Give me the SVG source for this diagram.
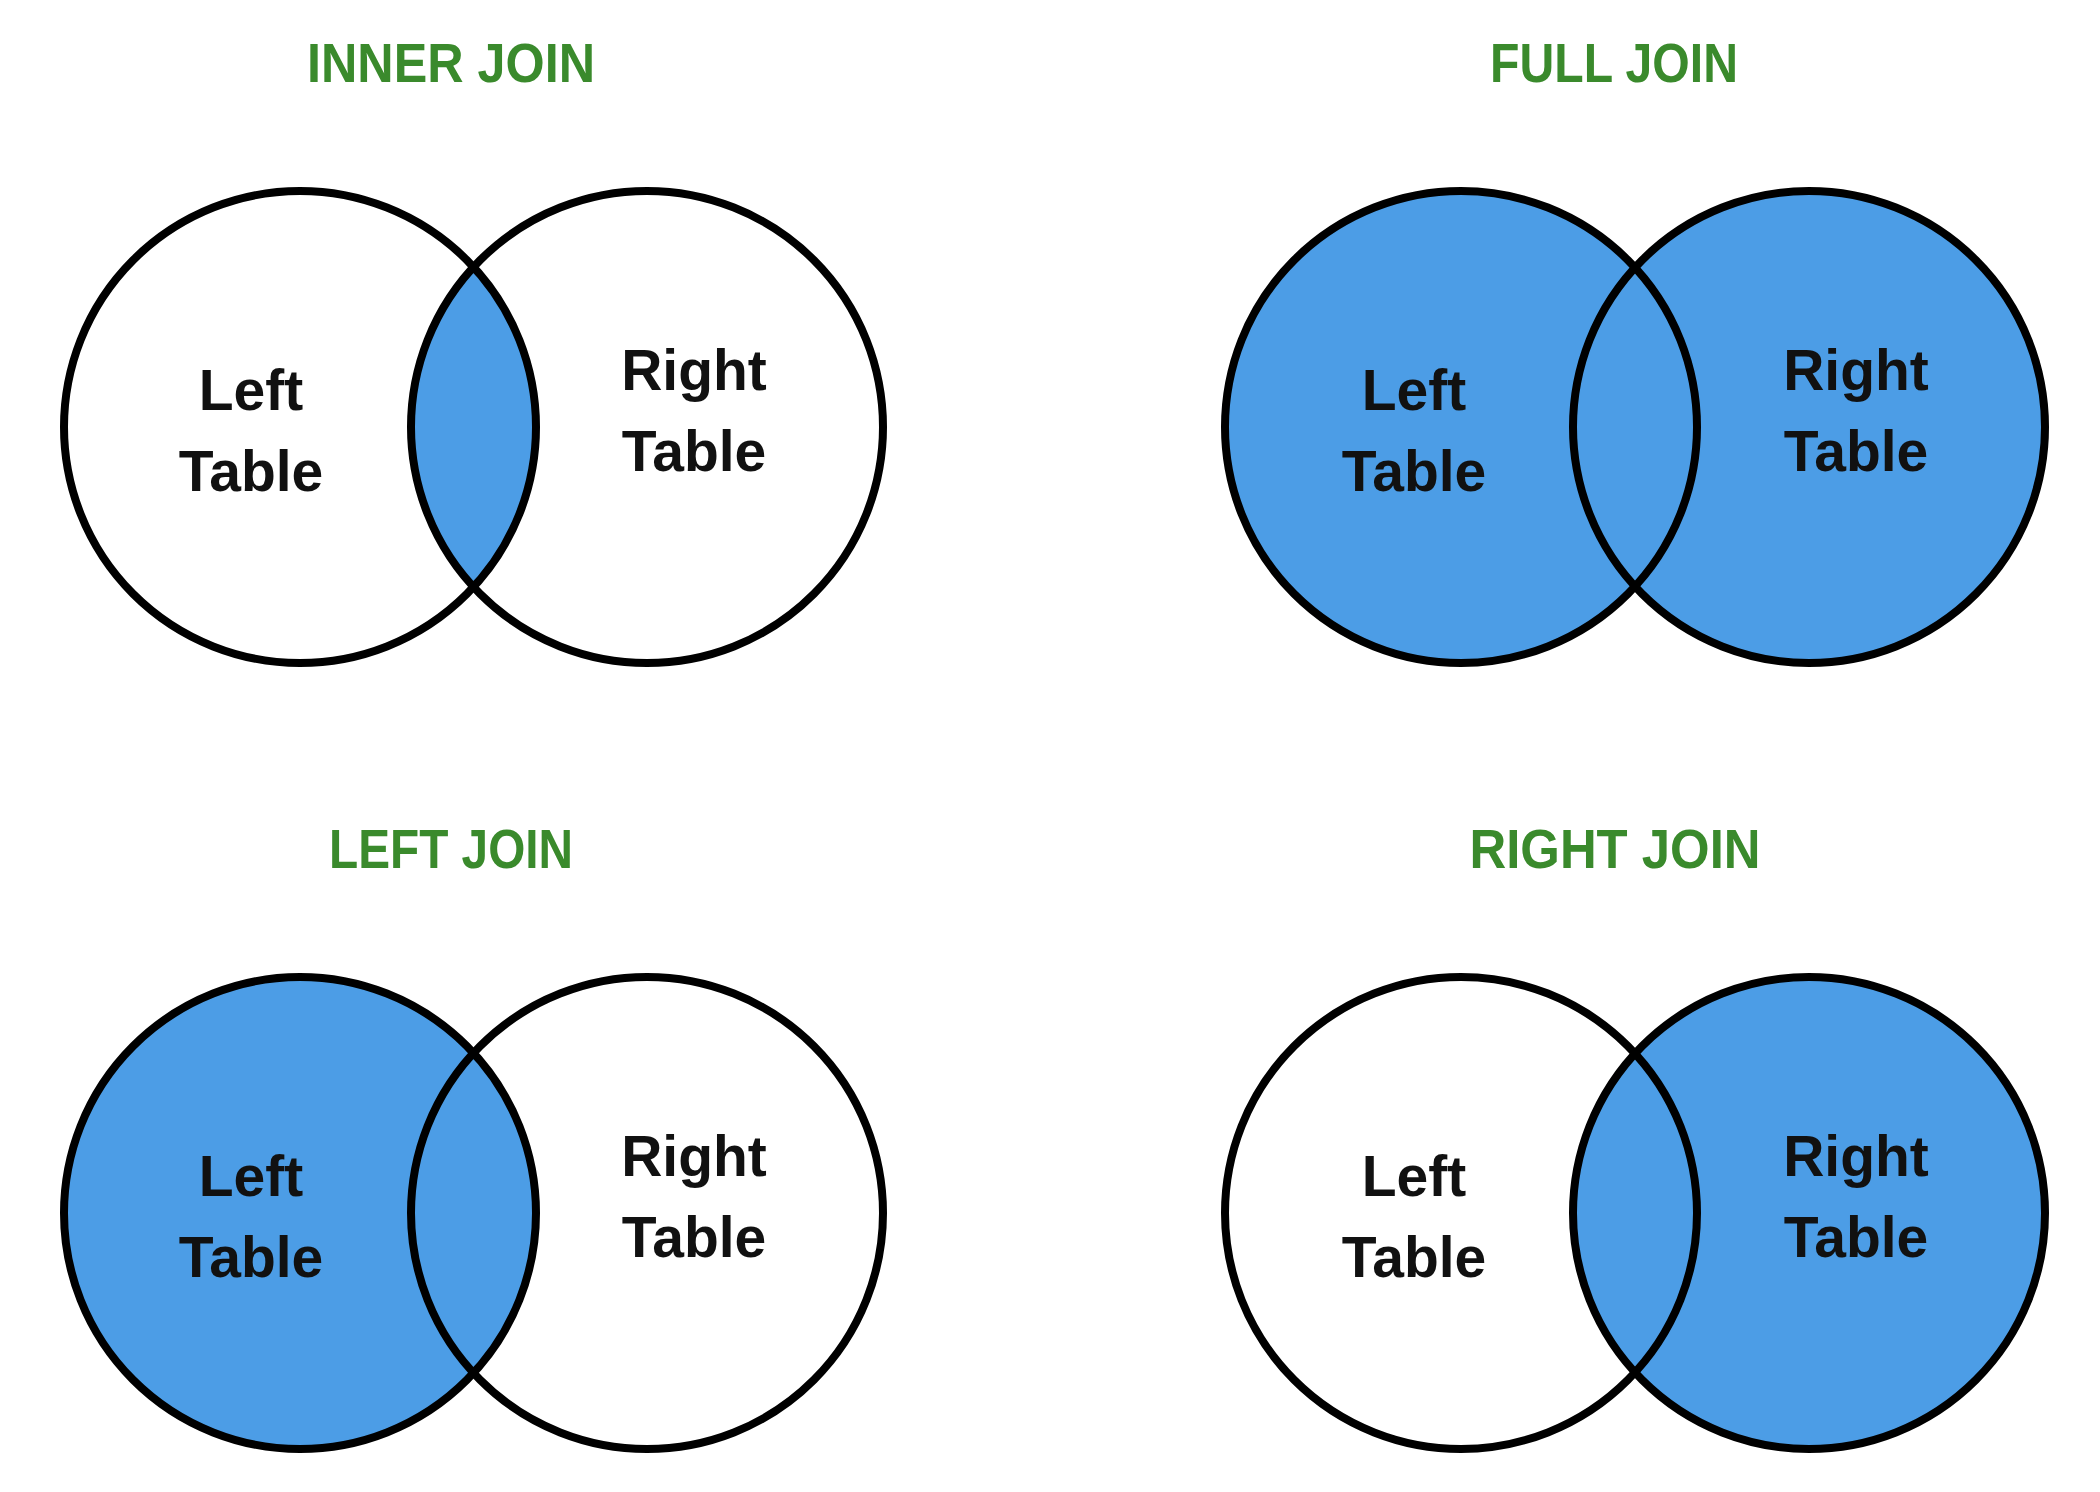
<svg xmlns="http://www.w3.org/2000/svg" width="2100" height="1492" viewBox="0 0 2100 1492">
<style>
.title{font-family:"Liberation Sans",Arial,sans-serif;font-weight:700;font-size:55px;fill:#3a8a2c;text-anchor:middle}
.lbl{font-family:"Liberation Sans",Arial,sans-serif;font-weight:700;font-size:57px;fill:#111;text-anchor:middle}
.ring{fill:none;stroke:#000;stroke-width:8}
.blue{fill:#4c9de6}
</style>
<defs>
<clipPath id="clipInnerL"><circle cx="300" cy="427" r="236"/></clipPath>
</defs>
<rect width="2100" height="1492" fill="#fff"/>

<g id="inner-join">
<text class="title" x="451" y="82" textLength="288" lengthAdjust="spacingAndGlyphs">INNER JOIN</text>
<circle cx="647" cy="427" r="236" class="blue" clip-path="url(#clipInnerL)"/>
<circle class="ring" cx="300" cy="427" r="236"/>
<circle class="ring" cx="647" cy="427" r="236"/>
<text class="lbl" x="251" y="410">Left</text>
<text class="lbl" x="251" y="491">Table</text>
<text class="lbl" x="694" y="390">Right</text>
<text class="lbl" x="694" y="471">Table</text>
</g>

<g id="full-join">
<text class="title" x="1614" y="82" textLength="248" lengthAdjust="spacingAndGlyphs">FULL JOIN</text>
<circle class="blue" cx="1461" cy="427" r="236"/>
<circle class="blue" cx="1809" cy="427" r="236"/>
<circle class="ring" cx="1461" cy="427" r="236"/>
<circle class="ring" cx="1809" cy="427" r="236"/>
<text class="lbl" x="1414" y="410">Left</text>
<text class="lbl" x="1414" y="491">Table</text>
<text class="lbl" x="1856" y="390">Right</text>
<text class="lbl" x="1856" y="471">Table</text>
</g>

<g id="left-join">
<text class="title" x="451" y="868" textLength="244" lengthAdjust="spacingAndGlyphs">LEFT JOIN</text>
<circle class="blue" cx="300" cy="1213" r="236"/>
<circle class="ring" cx="300" cy="1213" r="236"/>
<circle class="ring" cx="647" cy="1213" r="236"/>
<text class="lbl" x="251" y="1196">Left</text>
<text class="lbl" x="251" y="1277">Table</text>
<text class="lbl" x="694" y="1176">Right</text>
<text class="lbl" x="694" y="1257">Table</text>
</g>

<g id="right-join">
<text class="title" x="1615" y="868" textLength="291" lengthAdjust="spacingAndGlyphs">RIGHT JOIN</text>
<circle class="blue" cx="1809" cy="1213" r="236"/>
<circle class="ring" cx="1461" cy="1213" r="236"/>
<circle class="ring" cx="1809" cy="1213" r="236"/>
<text class="lbl" x="1414" y="1196">Left</text>
<text class="lbl" x="1414" y="1277">Table</text>
<text class="lbl" x="1856" y="1176">Right</text>
<text class="lbl" x="1856" y="1257">Table</text>
</g>

<g id="connectors"></g>
</svg>
